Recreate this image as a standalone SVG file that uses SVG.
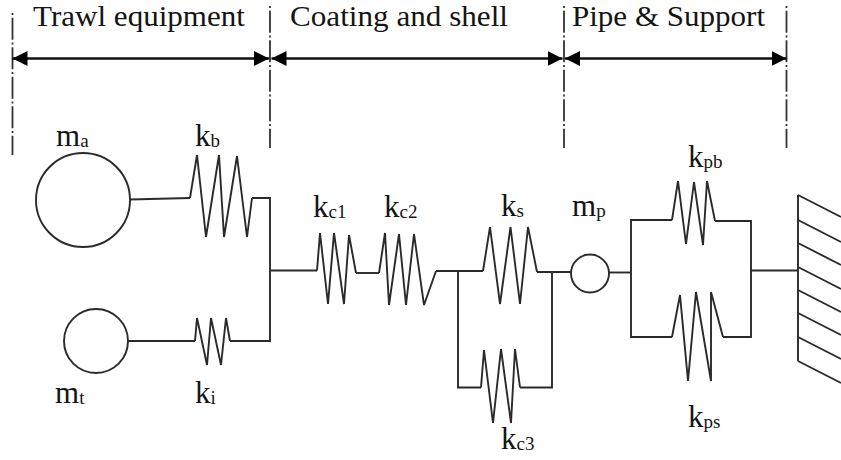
<svg xmlns="http://www.w3.org/2000/svg" width="841" height="460" viewBox="0 0 841 460">
<style>
text{font-family:"Liberation Serif","Times New Roman",serif;fill:#141414}
.h{font-size:30px}
.l{font-size:31px}
.s{font-size:19px}
.w{fill:none;stroke:#2a2a2a;stroke-width:1.9;stroke-linejoin:miter}
.m{fill:#fff;stroke:#2a2a2a;stroke-width:1.9}
.d{fill:none;stroke:#333;stroke-width:1.8;stroke-dasharray:2 2.8 22 2.7}
.a{fill:none;stroke:#111;stroke-width:2.6;marker-start:url(#ah);marker-end:url(#ah)}
</style>
<defs>
<marker id="ah" markerUnits="userSpaceOnUse" markerWidth="16" markerHeight="16" refX="15" refY="8" orient="auto-start-reverse"><path d="M0 0.5L15 8L0 15.5z" fill="#000"/></marker>
</defs>
<rect width="841" height="460" fill="#fff"/>
<g id="section-guides">
<path class="d" d="M12.5 13V155"/>
<path class="d" d="M270 6V148"/>
<path class="d" d="M564 6V148"/>
<path class="d" d="M786.5 6V148"/>
</g>
<g id="section-arrows">
<path class="a" d="M12.5 58.5H269"/>
<path class="a" d="M271.500 58.500H562.500"/>
<path class="a" d="M565 58.500H786.500"/>
</g>
<g id="section-labels">
<text class="h" x="33" y="26" textLength="212" lengthAdjust="spacingAndGlyphs">Trawl equipment</text>
<text class="h" x="290" y="26" textLength="218" lengthAdjust="spacingAndGlyphs">Coating and shell</text>
<text class="h" x="572" y="26" textLength="193" lengthAdjust="spacingAndGlyphs">Pipe &amp; Support</text>
</g>
<g id="connectors">
<path class="w" d="M130 199.500L190 198"/>
<path class="w" d="M252 198H270V341H230"/>
<path class="w" d="M128 341H195"/>
<path class="w" d="M270 270.500H317"/>
<path class="w" d="M356 273H379"/>
<path class="w" d="M436 271H483"/>
<path class="w" d="M458 271V387.500H481"/>
<path class="w" d="M537 272H571"/>
<path class="w" d="M520 387.500H552V272"/>
<path class="w" d="M609 272.500H631"/>
<path class="w" d="M672 220H631V337H672"/>
<path class="w" d="M715 221H751V337H723"/>
<path class="w" d="M751 270.500H798"/>
</g>
<g id="mass-ma"><circle class="m" cx="83" cy="200" r="47"/><text class="l" x="56" y="146">m<tspan class="s" dy="1">a</tspan></text></g>
<g id="mass-mt"><circle class="m" cx="96" cy="341" r="32"/><text class="l" x="55" y="403">m<tspan class="s" dy="1">t</tspan></text></g>
<g id="mass-mp"><circle class="m" cx="590" cy="273.500" r="19"/><text class="l" x="572" y="216">m<tspan class="s" dy="1">p</tspan></text></g>
<g id="spring-kb"><path class="w" d="M190 198L197 155L206 237L219 155L224 237L237 156L247 237L252 198"/><text class="l" x="195" y="146">k<tspan class="s" dy="1">b</tspan></text></g>
<g id="spring-ki"><path class="w" d="M195 341L197 318L207 365L211 318L221 365L226 318L230 341"/><text class="l" x="195" y="403">k<tspan class="s" dy="1">i</tspan></text></g>
<g id="spring-kc1"><path class="w" d="M317 270.500L320 233L328 304L334 233L344 304L349 235L356 273"/><text class="l" x="313" y="217">k<tspan class="s" dy="1">c1</tspan></text></g>
<g id="spring-kc2"><path class="w" d="M379 273L385 233L389 305L399 234L406 305L414 234L424 305L436 271"/><text class="l" x="384" y="217">k<tspan class="s" dy="1">c2</tspan></text></g>
<g id="spring-ks"><path class="w" d="M483 271L490 227L500 304L510.500 227L520 304L528 227L537 272"/><text class="l" x="501" y="216">k<tspan class="s" dy="1">s</tspan></text></g>
<g id="spring-kc3"><path class="w" d="M481 387.500L484 350L493 423L501 349L511 423L515 349L520 387.500"/><text class="l" x="501" y="449">k<tspan class="s" dy="1">c3</tspan></text></g>
<g id="spring-kpb"><path class="w" d="M672 220L678 181L686 244L694 182L703 245L707 181L715 221"/><text class="l" x="688" y="167">k<tspan class="s" dy="1">pb</tspan></text></g>
<g id="spring-kps"><path class="w" d="M672 337L680 295L688 381L696 292L711 381V292L723 337"/><text class="l" x="688" y="427">k<tspan class="s" dy="1">ps</tspan></text></g>
<g id="wall"><path class="w" d="M798 195V361M798 195L841 217M798 220L841 242M798 243L841 265M798 267L841 289M798 290L841 312M798 313L841 335M798 337L841 359M798 361L841 383"/></g>
</svg>
